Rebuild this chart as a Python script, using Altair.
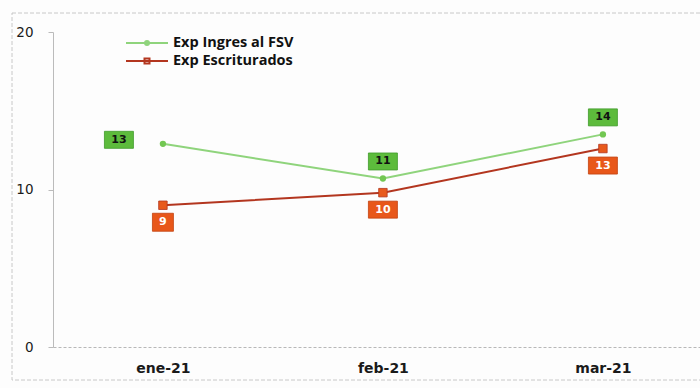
import altair as alt
import pandas as pd

months = ["ene-21", "feb-21", "mar-21"]
series_names = ["Exp Ingres al FSV", "Exp Escriturados"]
ingres = [12.9, 10.7, 13.5]
escrit = [9.0, 9.8, 12.6]
ingres_labels = ["13", "11", "14"]
escrit_labels = ["9", "10", "13"]
y_ticks = [0, 10, 20]

rows = []
for s, vals, labs in [(series_names[0], ingres, ingres_labels), (series_names[1], escrit, escrit_labels)]:
    for m, v, l in zip(months, vals, labs):
        rows.append({"month": m, "series": s, "value": v, "label": l})
df = pd.DataFrame(rows)

G, R = series_names
LINE_COLORS = ["#8fd47c", "#b3361f"]

x_enc = alt.X("month:N", sort=months,
              scale=alt.Scale(type="point", padding=0.4705, align=0.531),
              axis=alt.Axis(title=None, labelFont="DejaVu Sans", labelFontWeight="bold",
                            labelFontSize=14, labelColor="#1a1a1a", labelPadding=14,
                            ticks=False, domainColor="#b8b8b8", domainDash=[3, 2],
                            labelAngle=0))
y_enc = alt.Y("value:Q", scale=alt.Scale(domain=[0, 20], nice=False, zero=True),
              axis=alt.Axis(title=None, values=y_ticks, grid=False, labelFont="DejaVu Sans",
                            labelFontSize=13.5, labelColor="#1a1a1a", tickSize=5, tickColor="#bbb",
                            domainColor="#bbb", labelPadding=15))

GSYM = "M-3.2,0L1,0M-1.3,0a0.2,0.2 0 1,0 0.4,0a0.2,0.2 0 1,0 -0.4,0"
RSYM = "M-3.2,0L1,0M-1.35,-0.25h0.5v0.5h-0.5z"

leg = alt.Legend(title=None, orient="none", legendX=94, legendY=0, symbolSize=400,
                 symbolStrokeWidth=2, labelFont="Open Sans", labelFontWeight="bold",
                 labelFontSize=14.5, labelColor="#111", labelOffset=4, rowPadding=0, padding=0)

stroke_enc = alt.Stroke("series:N", scale=alt.Scale(domain=series_names, range=LINE_COLORS), legend=leg)

base = alt.Chart(df)

frame = alt.Chart(pd.DataFrame({"a": [0]})).mark_rect(
    filled=False, stroke="#c8c8c8", strokeWidth=1, strokeDash=[4, 2]
).encode(x=alt.value(-41), x2=alt.value(700), y=alt.value(-19), y2=alt.value(348))

line = base.mark_line(strokeWidth=2).encode(x=x_enc, y=y_enc, stroke=stroke_enc)

gpts = base.transform_filter(alt.datum.series == G).mark_point(
    filled=True, shape="circle", size=40, color="#72c752", opacity=1
).encode(x=x_enc, y=y_enc)

rpts = base.transform_filter(alt.datum.series == R).mark_point(
    filled=True, shape="square", size=72, color="#e85a1c", stroke="#b3361f", strokeWidth=0.8, opacity=1
).encode(x=x_enc, y=y_enc)

BOX2 = "M-2.9,-1.7H2.9V1.7H-2.9Z"
BOX1 = "M-2.1,-1.8H2.1V1.8H-2.1Z"

def box(filt, path, fill, stroke, dx, dy):
    return base.transform_filter(filt).mark_point(
        shape=path, size=100, filled=True, fill=fill, stroke=stroke, strokeWidth=0.8,
        opacity=1, xOffset=dx, yOffset=dy
    ).encode(x=x_enc, y=y_enc)

def txt(filt, color, dx, dy):
    return base.transform_filter(filt).mark_text(
        font="DejaVu Sans", fontWeight="bold", fontSize=11, color=color,
        dx=dx, dy=dy, align="center", baseline="middle"
    ).encode(x=x_enc, y=y_enc, text="label:N")

g_left = f"datum.series == '{G}' && datum.month == '{months[0]}'"
g_up = f"datum.series == '{G}' && datum.month != '{months[0]}'"
r_two = f"datum.series == '{R}' && length(datum.label) == 2"
r_one = f"datum.series == '{R}' && length(datum.label) == 1"

GBOX, GEDGE = "#5dbb3c", "#3f9a2a"
RBOX, REDGE = "#e8571a", "#c2410f"

labels = [
    box(g_left, BOX2, GBOX, GEDGE, -44, -4), txt(g_left, "#111", -44, -4),
    box(g_up, BOX2, GBOX, GEDGE, 0, -17), txt(g_up, "#111", 0, -17),
    box(r_two, BOX2, RBOX, REDGE, 0, 17), txt(r_two, "white", 0, 17),
    box(r_one, BOX1, RBOX, REDGE, 0, 17), txt(r_one, "white", 0, 17),
]

legend_layer = base.transform_filter("false").mark_point(
    filled=False, strokeWidth=2, opacity=1
).encode(
    x=x_enc, y=y_enc,
    stroke=stroke_enc,
    shape=alt.Shape("series:N", scale=alt.Scale(domain=series_names, range=[GSYM, RSYM]), legend=leg),
)

chart = alt.layer(frame, line, gpts, rpts, *labels, legend_layer).properties(
    width=647, height=315,
    padding={"left": 53, "top": 32, "right": 0, "bottom": 41},
    autosize=alt.AutoSizeParams(type="none"),
    background="#fdfdfd",
).configure_view(stroke=None)

chart.save("out.html", embed_options={"renderer": "svg", "actions": False})
